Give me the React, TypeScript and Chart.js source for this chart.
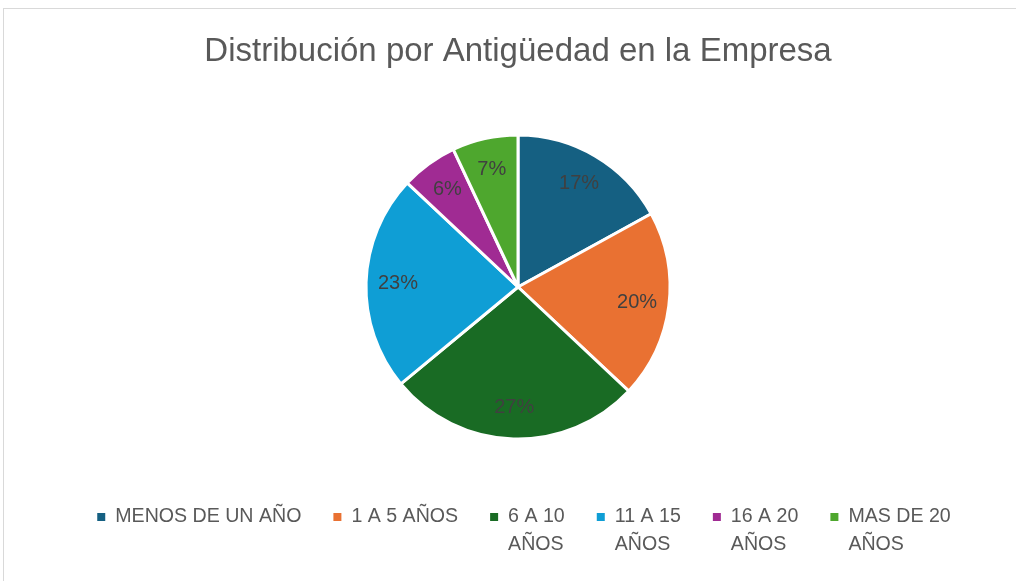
import React, { useEffect, useRef } from "react";
import { Chart, registerables } from "chart.js";

Chart.register(...registerables);

const chartTitle = "Distribución por Antigüedad en la Empresa";
const categories = ["MENOS DE UN AÑO", "1 A 5 AÑOS", "6 A 10 AÑOS", "11 A 15 AÑOS", "16 A 20 AÑOS", "MAS DE 20 AÑOS"];
const legendLines = [["MENOS DE UN AÑO"], ["1 A 5 AÑOS"], ["6 A 10", "AÑOS"], ["11 A 15", "AÑOS"], ["16 A 20", "AÑOS"], ["MAS DE 20", "AÑOS"]];
const values = [17, 20, 27, 23, 6, 7];
const colors = ["#156082", "#E97132", "#196B24", "#0F9ED5", "#A02B93", "#4EA72E"];

const LABEL_FONT = '20px "Liberation Sans", Arial, sans-serif';
const LEGEND_FONT = '19.6px "Liberation Sans", Arial, sans-serif';

const pieLabels = {
  id: "pieLabels",
  afterDatasetsDraw(chart: any) {
    const meta = chart.getDatasetMeta(0);
    const ctx = chart.ctx;
    const data = chart.data.datasets[0].data as number[];
    const total = data.reduce((a, b) => a + b, 0);
    ctx.save();
    ctx.font = LABEL_FONT;
    ctx.fillStyle = "#404040";
    ctx.textAlign = "center";
    ctx.textBaseline = "middle";
    meta.data.forEach((arc: any, i: number) => {
      const p = arc.getProps(["x", "y", "startAngle", "endAngle", "outerRadius"], true);
      const mid = (p.startAngle + p.endAngle) / 2;
      const r = p.outerRadius * 0.79;
      ctx.fillText(Math.round((data[i] / total) * 100) + "%", p.x + Math.cos(mid) * r, p.y + Math.sin(mid) * r);
    });
    ctx.restore();
  },
};

const customLegend = {
  id: "customLegend",
  afterDraw(chart: any) {
    const ctx = chart.ctx;
    const bg = chart.data.datasets[0].backgroundColor as string[];
    ctx.save();
    ctx.font = LEGEND_FONT;
    const box = 8;
    const gap = 10;
    const spacing = 32;
    const lineH = 28;
    const widths = legendLines.map((lines) => Math.max(...lines.map((l) => ctx.measureText(l).width)));
    const total = widths.reduce((a, w) => a + box + gap + w, 0) + spacing * (widths.length - 1);
    let x = chart.width / 2 - total / 2;
    const y0 = 508;
    ctx.textBaseline = "middle";
    ctx.textAlign = "left";
    legendLines.forEach((lines, i) => {
      ctx.fillStyle = bg[i];
      ctx.fillRect(x, y0 - box / 2, box, box);
      ctx.fillStyle = "#595959";
      lines.forEach((l, j) => ctx.fillText(l, x + box + gap, y0 + j * lineH));
      x += box + gap + widths[i] + spacing;
    });
    ctx.restore();
  },
};

export default function App() {
  const ref = useRef<HTMLCanvasElement | null>(null);
  useEffect(() => {
    if (!ref.current) return;
    const chart = new Chart(ref.current, {
      type: "pie",
      data: {
        labels: categories,
        datasets: [
          {
            data: values,
            backgroundColor: colors,
            borderColor: "#ffffff",
            borderWidth: 3,
            radius: 152,
          },
        ],
      },
      options: {
        animation: false,
        responsive: false,
        rotation: 0,
        layout: { padding: { top: 0, bottom: 168.5, left: 0, right: 12 } },
        plugins: {
          legend: { display: false },
          tooltip: { enabled: false },
          title: {
            display: true,
            text: chartTitle,
            color: "#595959",
            font: { family: '"Liberation Sans", Arial, sans-serif', size: 33, weight: "normal" },
            padding: { top: 23.2, bottom: 61.7 },
          },
        },
      },
      plugins: [pieLabels, customLegend],
    });
    return () => chart.destroy();
  }, []);
  return (
    <div style={{ position: "fixed", left: 0, top: 0, width: 1016, height: 581, overflow: "hidden", background: "#fff" }}>
      <div style={{ position: "absolute", left: 3, top: 8, width: 1040, height: 600, border: "1px solid #d9d9d9" }}>
        <canvas ref={ref} width={1040} height={600} style={{ display: "block", width: 1040, height: 600 }} />
      </div>
    </div>
  );
}
